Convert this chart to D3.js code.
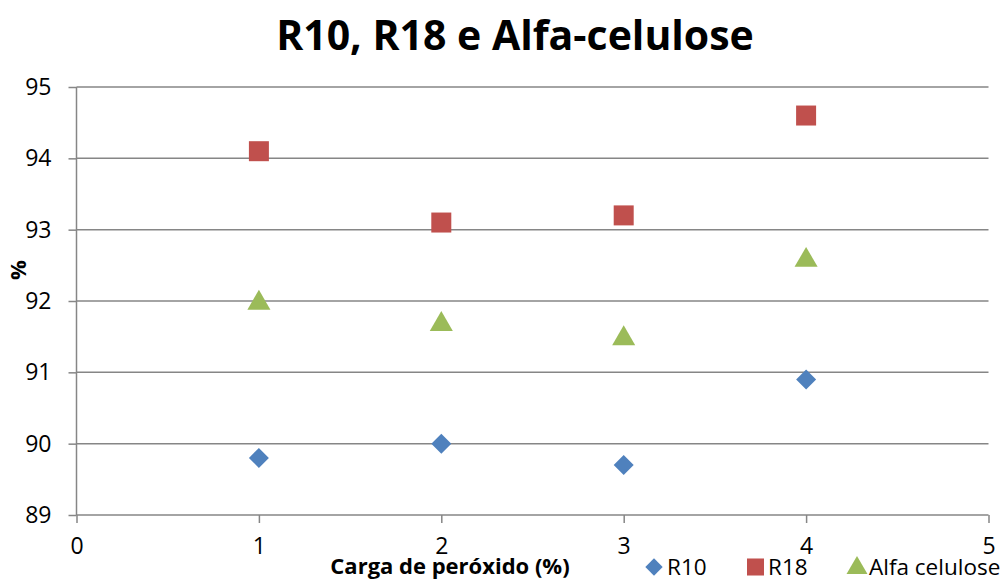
<!DOCTYPE html>
<html>
<head>
<meta charset="utf-8">
<script src="https://cdn.jsdelivr.net/npm/d3@7"></script>
<style>
  body { margin: 0; background: #fff; }
  svg { display: block; font-family: "Open Sans", "Liberation Sans", sans-serif; }
</style>
</head>
<body>
<svg id="chart" width="1007" height="580"></svg>
<script>
// Peroxide charge (%) on the x axis
const cargas = [1, 2, 3, 4];
// Series values (%)
const r10 = [89.8, 90.0, 89.7, 90.9];
const r18 = [94.1, 93.1, 93.2, 94.6];
const alfa = [92.0, 91.7, 91.5, 92.6];
const xTicks = [0, 1, 2, 3, 4, 5];
const yTicks = [89, 90, 91, 92, 93, 94, 95];

const series = [
  { name: "R10", values: r10, color: "#4F81BD", shape: "diamond" },
  { name: "R18", values: r18, color: "#C0504D", shape: "square" },
  { name: "Alfa celulose", values: alfa, color: "#9BBB59", shape: "triangle" }
];

const svg = d3.select("#chart");
const plotLeft = 76.5, plotRight = 988.5, plotTop = 87, plotBottom = 515;

const x = d3.scaleLinear().domain([0, 5]).range([plotLeft, plotRight]);
const y = d3.scaleLinear().domain([89, 95]).range([plotBottom, plotTop]);

const gridColor = "#868686";

// Horizontal gridlines
svg.append("g")
  .selectAll("line")
  .data(yTicks.slice(1))
  .join("line")
  .attr("x1", plotLeft).attr("x2", plotRight)
  .attr("y1", d => y(d)).attr("y2", d => y(d))
  .attr("stroke", gridColor).attr("stroke-width", 1.5);

// Y axis
const yAxis = svg.append("g")
  .attr("transform", `translate(${plotLeft},0)`)
  .call(d3.axisLeft(y).tickValues(yTicks).tickSize(8).tickPadding(17).tickFormat(d3.format("d")));
yAxis.select(".domain").attr("stroke", gridColor).attr("stroke-width", 1.5).attr("d", `M0,${plotTop}V${plotBottom}`);
yAxis.selectAll(".tick line").attr("stroke", gridColor).attr("stroke-width", 1.5);
yAxis.selectAll(".tick text")
  .attr("font-family", "Open Sans, Liberation Sans, sans-serif")
  .attr("font-size", 23).attr("fill", "#000");

// X axis
const xAxis = svg.append("g")
  .attr("transform", `translate(0,${plotBottom})`)
  .call(d3.axisBottom(x).tickValues(xTicks).tickSize(8).tickPadding(15).tickFormat(d3.format("d")));
xAxis.select(".domain").attr("stroke", gridColor).attr("stroke-width", 1.5).attr("d", `M${plotLeft},0H${plotRight}`);
xAxis.selectAll(".tick line").attr("stroke", gridColor).attr("stroke-width", 1.5);
xAxis.selectAll(".tick text")
  .attr("font-family", "Open Sans, Liberation Sans, sans-serif")
  .attr("font-size", 23).attr("fill", "#000");

// Marker symbols
const symbolFor = {
  diamond: d3.symbol().type(d3.symbolSquare).size(200),
  square: d3.symbol().type(d3.symbolSquare).size(400),
  triangle: d3.symbol().type(d3.symbolTriangle).size(230)
};

series.forEach(s => {
  svg.append("g")
    .selectAll("path")
    .data(s.values)
    .join("path")
    .attr("transform", (d, i) => {
      const base = `translate(${x(cargas[i])},${y(d)})`;
      return s.shape === "diamond" ? base + " rotate(45)" : (s.shape === "triangle" ? base + " translate(0,2)" : base);
    })
    .attr("d", symbolFor[s.shape]())
    .attr("fill", s.color);
});

// Title
svg.append("text")
  .attr("x", 515).attr("y", 50)
  .attr("text-anchor", "middle")
  .attr("font-size", 41).attr("font-weight", "bold")
  .text("R10, R18 e Alfa-celulose");

// Y axis title
svg.append("text")
  .attr("transform", "translate(26,270) rotate(-90)")
  .attr("text-anchor", "middle")
  .attr("font-size", 22).attr("font-weight", "bold")
  .text("%");

// X axis title
svg.append("text")
  .attr("x", 450).attr("y", 574)
  .attr("text-anchor", "middle")
  .attr("font-size", 22).attr("font-weight", "bold")
  .text("Carga de peróxido (%)");

// Legend
const legendPos = [645, 746, 847];
const legend = svg.append("g");
series.forEach((s, i) => {
  const g = legend.append("g").attr("transform", `translate(${legendPos[i]},567)`);
  const sym = g.append("path").attr("fill", s.color);
  if (s.shape === "diamond") {
    sym.attr("d", d3.symbol().type(d3.symbolSquare).size(150)()).attr("transform", "translate(9,0) rotate(45)");
  } else if (s.shape === "square") {
    sym.attr("d", d3.symbol().type(d3.symbolSquare).size(290)()).attr("transform", "translate(9.5,0)");
  } else {
    sym.attr("d", d3.symbol().type(d3.symbolTriangle).size(190)()).attr("transform", "translate(10,1)");
  }
  g.append("text")
    .attr("x", 22).attr("y", 8)
    .attr("font-size", 22.5)
    .attr("textLength", null)
    .text(s.name);
});
</script>
</body>
</html>
